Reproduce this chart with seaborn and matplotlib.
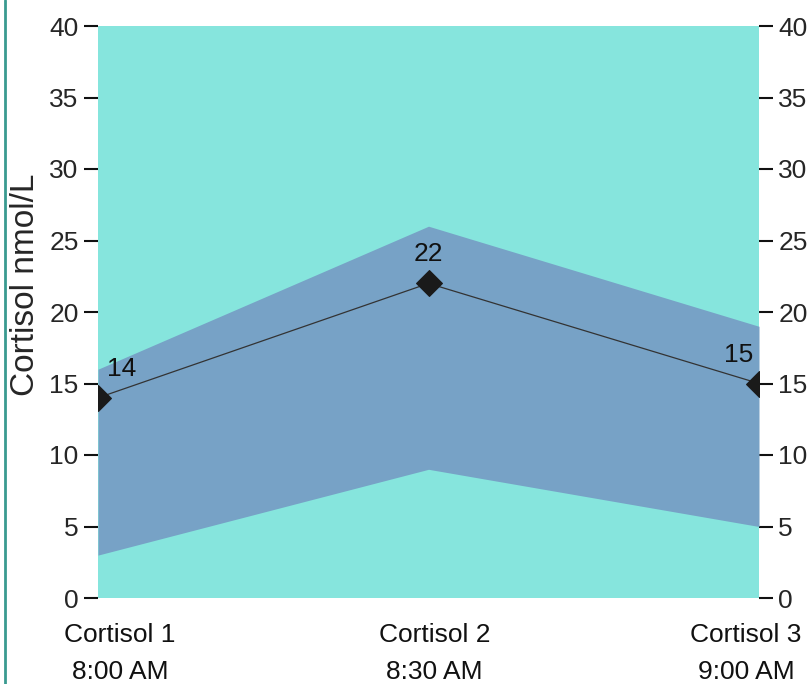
import numpy as np
import pandas as pd
import matplotlib.pyplot as plt
import matplotlib.lines as mlines
import matplotlib.transforms as mtransforms
import seaborn as sns

# Data
labels = ["Cortisol 1\n8:00 AM", "Cortisol 2\n8:30 AM", "Cortisol 3\n9:00 AM"]
cortisol = [14, 22, 15]
range_low = [3, 9, 5]
range_high = [16, 26, 19]
y_ticks = [0, 5, 10, 15, 20, 25, 30, 35, 40]

sns.set_style("white")
plt.rcParams['font.family'] = ['Liberation Sans', 'DejaVu Sans']

fig = plt.figure(figsize=(8.09, 6.84), dpi=100)
ax = fig.add_axes([98 / 809, 1 - 598 / 684, (759 - 98) / 809, (598 - 26) / 684])

x = np.arange(len(labels))
df = pd.DataFrame({'x': x, 'cortisol': cortisol})

# background and reference band
ax.fill_between([x[0], x[-1]], 0, 40, color='#86E5DD', lw=0, zorder=0)
ax.fill_between(x, range_low, range_high, color='#77A2C6', lw=0, zorder=1)

sns.lineplot(data=df, x='x', y='cortisol', ax=ax, color='#333333', lw=0.9,
             marker='D', markersize=13, markerfacecolor='#1a1a1a',
             markeredgecolor='#1a1a1a', zorder=3)

# value labels
aligns = ['left', 'center', 'right']
offs = [9, 0, -6]
for xi, v, ha, o in zip(x, cortisol, aligns, offs):
    ax.annotate(str(v), (xi, v), xytext=(o, 29), textcoords='offset pixels',
                ha=ha, va='center', fontsize=19, color='#111111', zorder=4)

ax.set_xlim(x[0], x[-1])
ax.set_ylim(0, 40)
ax.set_yticks(y_ticks)
ax.set_xticks(x)
ax.set_xticklabels(labels, linespacing=1.7)
ax.set_xlabel('')
ax.set_ylabel('Cortisol nmol/L', fontsize=24)
ax.yaxis.set_label_coords(-0.086, 0.547)

for s in ax.spines.values():
    s.set_visible(False)

ax.tick_params(axis='y', which='both', left=True, right=True, labelleft=True,
               labelright=True, length=10, width=1.5, color='#111111',
               labelsize=19, pad=4)
ax.tick_params(axis='x', length=0, labelsize=19, pad=18)

# tick labels are nudged inward like the original
shifts = [22, 6, -13]
for lbl, sh in zip(ax.get_xticklabels(), shifts):
    lbl.set_color('#111111')
    lbl.set_transform(lbl.get_transform() + mtransforms.ScaledTranslation(sh / 100, 0, fig.dpi_scale_trans))

# left container border line
fig.add_artist(mlines.Line2D([5 / 809, 5 / 809], [0, 1], color='#3a9a90', lw=2,
                             transform=fig.transFigure))

fig.savefig('out.png', dpi=100)
